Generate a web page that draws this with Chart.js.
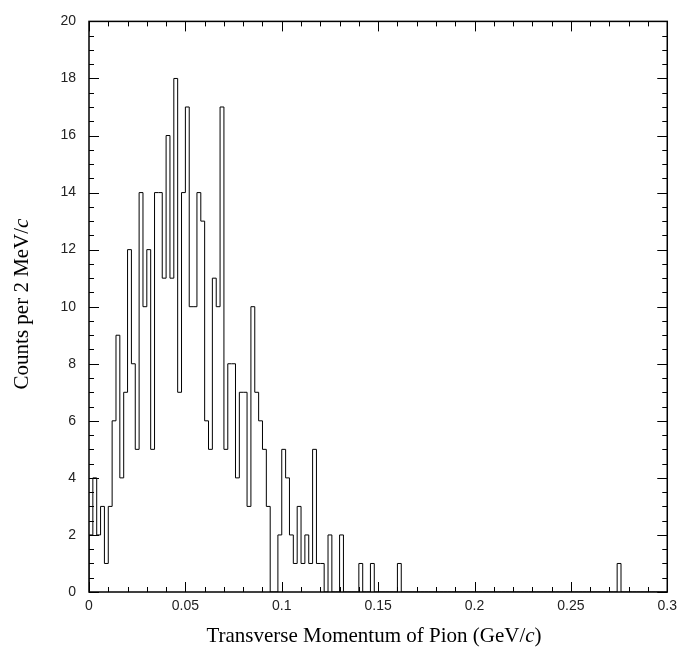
<!DOCTYPE html>
<html>
<head>
<meta charset="utf-8">
<script src="https://cdn.jsdelivr.net/npm/chart.js"></script>
<style>
  html, body { margin: 0; padding: 0; background: #fff; }
  canvas { display: block; }
</style>
</head>
<body>
<canvas id="chart" width="683" height="649"></canvas>
<script>
'use strict';
// histogram: 150 bins of 2 MeV/c from 0 to 0.3 GeV/c
var binLow = 0;
var binWidth = 0.002;
var counts = [
  2, 4, 2, 3, 1, 3, 6, 9, 4, 7,
  12, 8, 5, 14, 10, 12, 5, 14, 14, 11,
  16, 11, 18, 7, 14, 17, 10, 10, 14, 13,
  6, 5, 11, 10, 17, 5, 8, 8, 4, 7,
  7, 3, 10, 7, 6, 5, 3, 0, 0, 2,
  5, 4, 2, 1, 3, 1, 2, 1, 5, 1,
  1, 0, 2, 0, 0, 2, 0, 0, 0, 0,
  1, 0, 0, 1, 0, 0, 0, 0, 0, 0,
  1, 0, 0, 0, 0, 0, 0, 0, 0, 0,
  0, 0, 0, 0, 0, 0, 0, 0, 0, 0,
  0, 0, 0, 0, 0, 0, 0, 0, 0, 0,
  0, 0, 0, 0, 0, 0, 0, 0, 0, 0,
  0, 0, 0, 0, 0, 0, 0, 0, 0, 0,
  0, 0, 0, 0, 0, 0, 0, 1, 0, 0,
  0, 0, 0, 0, 0, 0, 0, 0, 0, 0
];
var xTicks = [0, 0.05, 0.1, 0.15, 0.2, 0.25, 0.3];
var yTicks = [0, 2, 4, 6, 8, 10, 12, 14, 16, 18, 20];
var xTitle = [['Transverse Momentum of Pion (GeV/', false], ['c', true], [')', false]];
var yTitle = [['Counts per 2 MeV/', false], ['c', true]];

// step outline points at the left edge of every bin, closed at the right edge
var points = [{x: binLow, y: 0}];
for (var i = 0; i < counts.length; i++) {
  points.push({x: binLow + i * binWidth, y: counts[i]});
}
points.push({x: binLow + counts.length * binWidth, y: counts[counts.length - 1]});

var serif = '"Liberation Serif", "Times New Roman", serif';

function drawMixed(ctx, parts, size) {
  var w = 0;
  parts.forEach(function(p) {
    ctx.font = (p[1] ? 'italic ' : '') + size + 'px ' + serif;
    w += ctx.measureText(p[0]).width;
  });
  var x = -w / 2;
  parts.forEach(function(p) {
    ctx.font = (p[1] ? 'italic ' : '') + size + 'px ' + serif;
    ctx.fillText(p[0], x, 0);
    x += ctx.measureText(p[0]).width;
  });
}

// frame, inward ticks on all four sides and axis titles
var frame = {
  id: 'frame',
  afterDraw: function(chart) {
    var ctx = chart.ctx;
    var a = chart.chartArea;
    var xs = chart.scales.x, ys = chart.scales.y;
    ctx.save();
    ctx.strokeStyle = '#000';
    ctx.lineWidth = 1;
    ctx.beginPath();
    var v, p, len;
    for (var k = 0; k <= 30; k++) {
      v = k * 0.01;
      p = Math.round(xs.getPixelForValue(v)) + 0.5;
      len = (k % 5 === 0) ? 10 : 5;
      ctx.moveTo(p, a.bottom); ctx.lineTo(p, a.bottom - len);
      ctx.moveTo(p, a.top); ctx.lineTo(p, a.top + len);
    }
    for (var m = 0; m <= 40; m++) {
      v = m * 0.5;
      p = Math.round(ys.getPixelForValue(v)) + 0.5;
      len = (m % 4 === 0) ? 10 : 5;
      ctx.moveTo(a.left, p); ctx.lineTo(a.left + len, p);
      ctx.moveTo(a.right, p); ctx.lineTo(a.right - len, p);
    }
    ctx.stroke();
    ctx.lineWidth = 1.5;
    ctx.strokeRect(a.left, a.top, a.right - a.left, a.bottom - a.top);

    ctx.fillStyle = '#000';
    ctx.textBaseline = 'middle';
    ctx.textAlign = 'left';
    ctx.save();
    ctx.translate(374, 636);
    drawMixed(ctx, xTitle, 21);
    ctx.restore();
    ctx.save();
    ctx.translate(22, 304);
    ctx.rotate(-Math.PI / 2);
    drawMixed(ctx, yTitle, 21);
    ctx.restore();
    ctx.restore();
  }
};

var ctx = document.getElementById('chart').getContext('2d');
var chart = new Chart(ctx, {
  type: 'line',
  data: {
    datasets: [{
      data: points,
      stepped: true,
      borderColor: '#000',
      borderWidth: 1,
      pointRadius: 0,
      fill: false
    }]
  },
  options: {
    responsive: false,
    animation: false,
    layout: { padding: { left: 0, right: 14, top: 12, bottom: 0 } },
    plugins: { legend: { display: false }, tooltip: { enabled: false } },
    scales: {
      x: {
        type: 'linear',
        min: 0,
        max: 0.3,
        afterBuildTicks: function(scale) {
          scale.ticks = xTicks.map(function(t) { return {value: t}; });
        },
        afterFit: function(scale) { scale.height = 57; },
        grid: { display: false, drawTicks: false },
        border: { display: false },
        ticks: {
          padding: 6,
          maxRotation: 0,
          autoSkip: false,
          color: '#222',
          font: { family: '"Liberation Sans", Arial, sans-serif', size: 14 },
          callback: function(v) { return String(parseFloat(Number(v).toFixed(3))); }
        }
      },
      y: {
        min: 0,
        max: 20,
        afterBuildTicks: function(scale) {
          scale.ticks = yTicks.map(function(t) { return {value: t}; });
        },
        afterFit: function(scale) { scale.width = 89; },
        grid: { display: false, drawTicks: false },
        border: { display: false },
        ticks: {
          padding: 13,
          autoSkip: false,
          color: '#222',
          font: { family: '"Liberation Sans", Arial, sans-serif', size: 14 }
        }
      }
    }
  },
  plugins: [frame]
});
</script>
</body>
</html>
